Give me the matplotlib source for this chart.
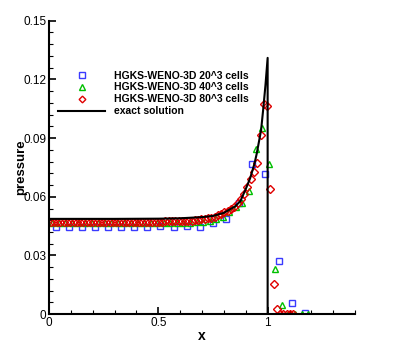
import matplotlib
matplotlib.use('Agg')
from matplotlib import pyplot as plt
from matplotlib.ticker import MultipleLocator, FuncFormatter

plt.rcParams['font.family'] = ['Liberation Sans', 'DejaVu Sans']

### Data ###
# HGKS-WENO-3D 20^3 cells
x20 = [0.03, 0.09, 0.15, 0.21, 0.27, 0.33, 0.39, 0.45, 0.51, 0.57,
       0.63, 0.69, 0.75, 0.81, 0.87, 0.93, 0.99, 1.05, 1.11, 1.17]
p20 = [0.0448, 0.0448, 0.0448, 0.0448, 0.0447, 0.0447, 0.0448, 0.0448, 0.0450, 0.0443,
       0.0452, 0.0448, 0.0466, 0.0488, 0.0570, 0.0768, 0.0718, 0.0272, 0.0055, 0.0005]

# HGKS-WENO-3D 40^3 cells
x40 = [0.015, 0.045, 0.075, 0.105, 0.135, 0.165, 0.195, 0.225, 0.255, 0.285,
       0.315, 0.345, 0.375, 0.405, 0.435, 0.465, 0.495, 0.525, 0.555, 0.585,
       0.615, 0.645, 0.675, 0.705, 0.735, 0.765, 0.795, 0.825, 0.855, 0.885,
       0.915, 0.945, 0.975, 1.005, 1.035, 1.065, 1.095, 1.125, 1.155, 1.185]
p40 = [0.0465, 0.0465, 0.0465, 0.0465, 0.0465, 0.0465, 0.0465, 0.0465, 0.0465, 0.0465,
       0.0465, 0.0465, 0.0465, 0.0465, 0.0465, 0.0465, 0.0465, 0.0465, 0.0466, 0.0466,
       0.0467, 0.0468, 0.0470, 0.0473, 0.0477, 0.0485, 0.0497, 0.0521, 0.0550, 0.0570,
       0.0632, 0.0845, 0.0950, 0.0765, 0.0232, 0.0046, 0.0003, 0.0, 0.0, 0.0]

# HGKS-WENO-3D 80^3 cells
x80 = [0.0075, 0.0225, 0.0375, 0.0525, 0.0675, 0.0825, 0.0975, 0.1125, 0.1275, 0.1425,
       0.1575, 0.1725, 0.1875, 0.2025, 0.2175, 0.2325, 0.2475, 0.2625, 0.2775, 0.2925,
       0.3075, 0.3225, 0.3375, 0.3525, 0.3675, 0.3825, 0.3975, 0.4125, 0.4275, 0.4425,
       0.4575, 0.4725, 0.4875, 0.5025, 0.5175, 0.5325, 0.5475, 0.5625, 0.5775, 0.5925,
       0.6075, 0.6225, 0.6375, 0.6525, 0.6675, 0.6825, 0.6975, 0.7125, 0.7275, 0.7425,
       0.7575, 0.7725, 0.7875, 0.8025, 0.8175, 0.8325, 0.8475, 0.8625, 0.8775, 0.8925,
       0.9075, 0.9225, 0.9375, 0.9525, 0.9675, 0.9825, 0.9975, 1.0125, 1.0275, 1.0425,
       1.0575, 1.0725, 1.0875, 1.1025, 1.1175]
p80 = [0.0472, 0.0472, 0.0472, 0.0472, 0.0472, 0.0472, 0.0472, 0.0472, 0.0472, 0.0472,
       0.0472, 0.0472, 0.0472, 0.0472, 0.0472, 0.0472, 0.0472, 0.0472, 0.0472, 0.0472,
       0.0472, 0.0472, 0.0472, 0.0472, 0.0472, 0.0472, 0.0472, 0.0472, 0.0472, 0.0473,
       0.0473, 0.0473, 0.0473, 0.0473, 0.0473, 0.0474, 0.0474, 0.0474, 0.0474, 0.0475,
       0.0475, 0.0476, 0.0477, 0.0478, 0.0480, 0.0482, 0.0484, 0.0487, 0.0490, 0.0494,
       0.0499, 0.0505, 0.0512, 0.0520, 0.0528, 0.0538, 0.0550, 0.0568, 0.0590, 0.0615,
       0.0650, 0.0690, 0.0725, 0.0775, 0.0914, 0.1072, 0.1062, 0.0640, 0.0155, 0.0027,
       0.0003, 0.0, 0.0, 0.0, 0.0]

# exact solution
x_exact = [0.0, 0.3, 0.5, 0.6, 0.7, 0.75, 0.8, 0.85, 0.875, 0.9, 0.92, 0.94,
           0.95, 0.96, 0.97, 0.98, 0.99, 1.0, 1.0, 1.4]
p_exact = [0.0487, 0.0487, 0.0488, 0.0490, 0.0496, 0.0502, 0.0518, 0.0550, 0.0577,
           0.0640, 0.0695, 0.0770, 0.0820, 0.0880, 0.0940, 0.1050, 0.1170, 0.1310, 0.0, 0.0]

fig = plt.figure(figsize=(3.95, 3.51), dpi=100)
ax = fig.add_axes([0.124, 0.105, 0.775, 0.836])

ax.plot(x20, p20, 's', mfc='none', mec='#3a3aff', ms=4.3, mew=1.0,
        label='HGKS-WENO-3D 20^3 cells')
ax.plot(x40, p40, '^', mfc='none', mec='#00c000', ms=5.0, mew=1.0,
        label='HGKS-WENO-3D 40^3 cells')
ax.plot(x80, p80, 'D', mfc='none', mec='#e00000', ms=4.0, mew=1.0,
        label='HGKS-WENO-3D 80^3 cells')
ax.plot(x_exact, p_exact, '-', color='black', lw=1.5, label='exact solution')

ax.set_xlim(0, 1.4)
ax.set_ylim(0, 0.15)

for side in ['top', 'right']:
    ax.spines[side].set_visible(False)
for side in ['left', 'bottom']:
    ax.spines[side].set_linewidth(1.5)

ax.xaxis.set_major_locator(MultipleLocator(0.5))
ax.xaxis.set_minor_locator(MultipleLocator(0.1))
ax.yaxis.set_major_locator(MultipleLocator(0.03))
ax.yaxis.set_minor_locator(MultipleLocator(0.006))
fmt = FuncFormatter(lambda v, pos: '%g' % round(v, 4))
ax.xaxis.set_major_formatter(fmt)
ax.yaxis.set_major_formatter(fmt)
ax.tick_params(which='both', direction='in', labelsize=8.5, pad=2)
ax.tick_params(which='major', length=5, width=1.2)
ax.tick_params(which='minor', length=3, width=0.8)

ax.set_xlabel('x', fontsize=10, fontweight='bold', labelpad=0)
ax.set_ylabel('pressure', fontsize=9.5, fontweight='bold', labelpad=-3)

ax.legend(loc='upper left', bbox_to_anchor=(0.03, 0.83), frameon=False,
          prop={'size': 7.5, 'weight': 'bold'}, numpoints=1, markerscale=0.85,
          handlelength=4.5, handletextpad=0.87,
          labelspacing=0.18, borderpad=0, borderaxespad=0)

fig.savefig('out.png', dpi=100)
